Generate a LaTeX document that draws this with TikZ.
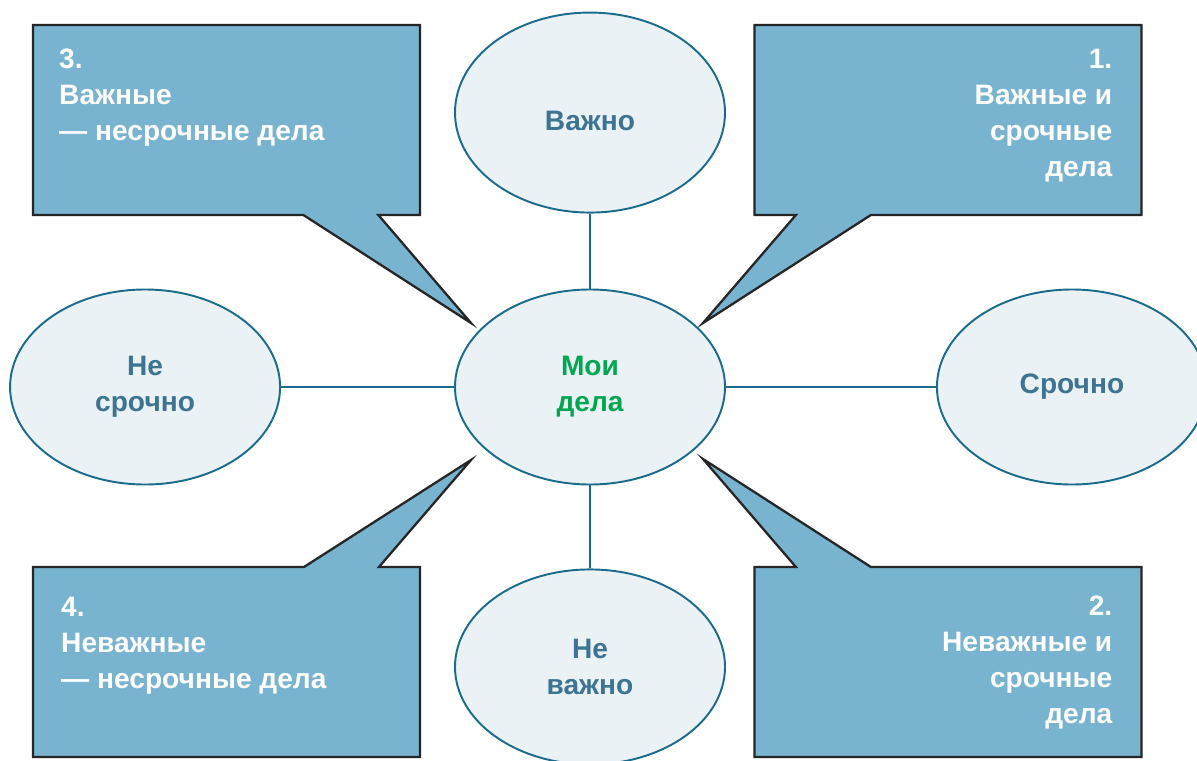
\documentclass[tikz,border=0pt]{standalone}
\usepackage{fontspec}
\setmainfont{Liberation Sans}
\usepackage{xcolor}
\usetikzlibrary{positioning,
                shapes.geometric,
                shapes.callouts}
\definecolor{bubble}{HTML}{78B3CF}
\definecolor{pale}{HTML}{EAF2F6}
\definecolor{rim}{HTML}{1B6B8C}
\definecolor{ink}{HTML}{3C7491}
\definecolor{leaf}{HTML}{00A650}
\tikzset{
        base/.style={font=\fontsize{16}{20.4}\selectfont\bfseries, align=center},
        oval/.style={base, ellipse, draw=rim, fill=pale, line width=1.1pt,
                     minimum width=5.4cm, minimum height=3.9cm, text=ink,
                     inner sep=0pt},
        hub/.style={oval, text=leaf},
        note/.style={rectangle callout, draw=black!85, fill=bubble,
                     line width=1.3pt, minimum width=7.74cm,
                     minimum height=3.8cm, callout pointer width=1.5cm},
        notetext/.style={base, text=white, inner sep=0pt},
        link/.style={rim, line width=1.1pt},
 }

\begin{document}
\begin{tikzpicture}
    \useasboundingbox (0,0) rectangle (23.94,15.2);

    % pointer tips of the callouts
    \coordinate (tnw) at (9.42,8.74);
    \coordinate (tne) at (14.06,8.74);
    \coordinate (tsw) at (9.42,6.0);
    \coordinate (tse) at (14.06,6.02);

    \node[note, callout absolute pointer={(tnw)}] (c3) at (4.53,12.8) {};
    \node[note, callout absolute pointer={(tne)}] (c1) at (18.96,12.8) {};
    \node[note, callout absolute pointer={(tsw)}] (c4) at (4.53,1.96) {};
    \node[note, callout absolute pointer={(tse)}] (c2) at (18.96,1.96) {};

    \node[notetext, align=left, below right=0.5cm and 0.54cm of c3.north west]
          (t3) {3.\\Важные\\— несрочные дела};
    \node[notetext, align=right, below left=0.5cm and 0.6cm of c1.north east]
          (t1) {1.\\Важные и\\срочные\\дела};
    \node[notetext, align=left, below right=0.62cm and 0.58cm of c4.north west]
          (t4) {4.\\Неважные\\— несрочные дела};
    \node[notetext, align=right, below left=0.6cm and 0.6cm of c2.north east]
          (t2) {2.\\Неважные и\\срочные\\дела};

    \node[hub] (m) at (11.8,7.46) {Мои\\дела};
    \node[oval, minimum height=4cm, above=1.5cm of m, text height=0.8cm,
          text depth=0.1cm] (v) {Важно};
    \node[oval, below=1.66cm of m] (nv) {Не\\важно};
    \node[oval, left=3.46cm of m] (ns) {Не\\срочно};
    \node[oval, right=4.2cm of m] (s) {Срочно};

    \draw[link] (m) -- (v);
    \draw[link] (m) -- (nv);
    \draw[link] (m) -- (ns);
    \draw[link] (m) -- (s);
\end{tikzpicture}
\end{document}
